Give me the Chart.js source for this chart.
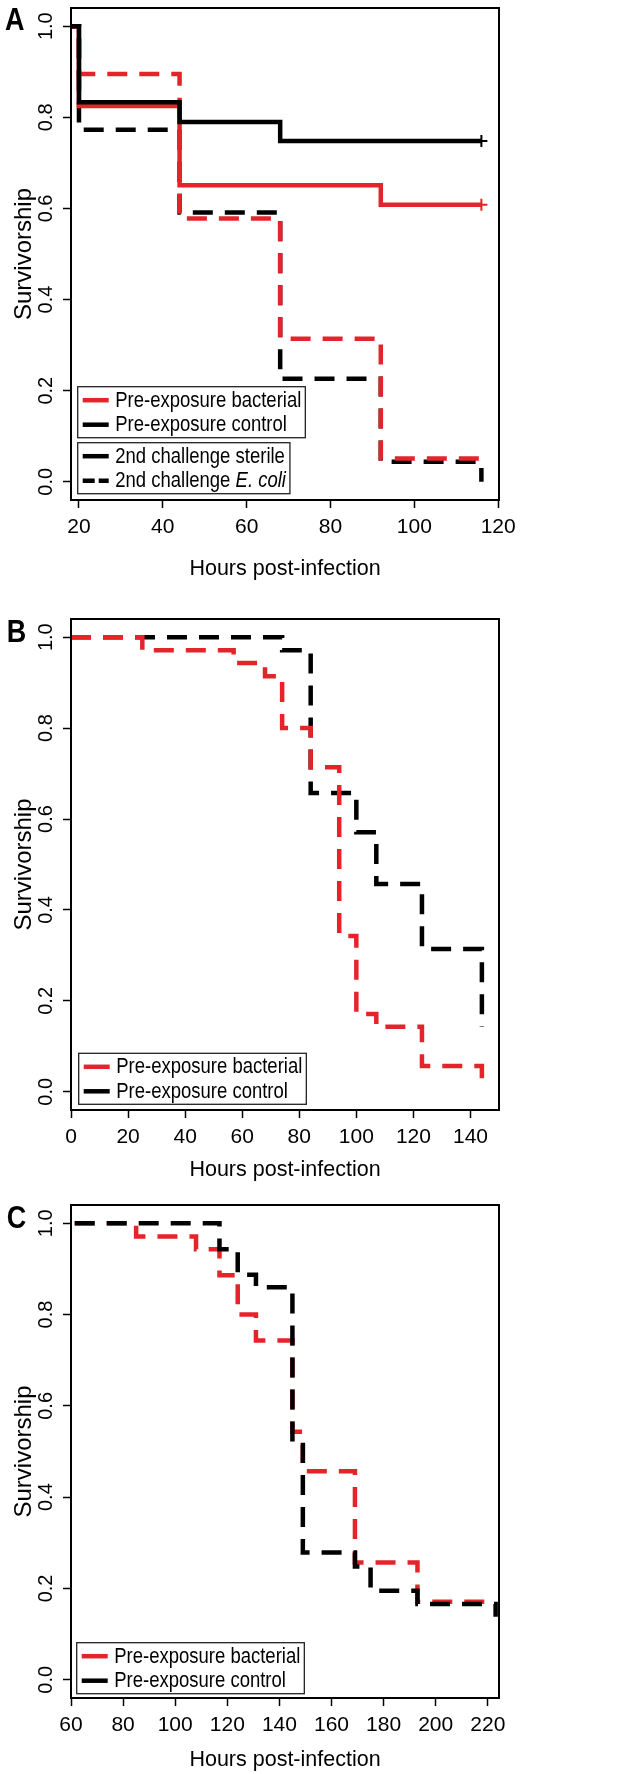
<!DOCTYPE html>
<html>
<head>
<meta charset="utf-8">
<script src="https://cdn.jsdelivr.net/npm/chart.js@4.4.1/dist/chart.umd.min.js"></script>
<style>
  html, body { margin: 0; padding: 0; background: #fff; }
  #page { position: relative; width: 626px; height: 1774px; }
  canvas { position: absolute; left: 0; }
</style>
</head>
<body>
<div id="page">
  <canvas id="panel-a" width="626" height="590" style="top:0"></canvas>
  <canvas id="panel-b" width="626" height="594" style="top:590px"></canvas>
  <canvas id="panel-c" width="626" height="594" style="top:1180px"></canvas>
</div>
<script>
const RED = '#e3252b';
const BLACK = '#000000';

// shared axis ticks
const yTickValues = [0, 0.2, 0.4, 0.6, 0.8, 1.0];
const aXTicks = [20, 40, 60, 80, 100, 120];
const bXTicks = [0, 20, 40, 60, 80, 100, 120, 140];
const cXTicks = [60, 80, 100, 120, 140, 160, 180, 200, 220];

// panel A - second challenge (hours, survivorship)
const aCtrlSterileTimes = [0, 20, 44, 68, 116];
const aCtrlSterileSurv = [1, 0.833, 0.79, 0.748, 0.748];
const aBactSterileTimes = [0, 20, 44, 92, 116];
const aBactSterileSurv = [1, 0.825, 0.651, 0.608, 0.608];
const aBactEcoliTimes = [0, 20, 44, 68, 92, 116];
const aBactEcoliSurv = [1, 0.895, 0.578, 0.314, 0.051, 0.051];
const aCtrlEcoliTimes = [0, 20, 44, 68, 92, 116];
const aCtrlEcoliSurv = [1, 0.773, 0.591, 0.226, 0.044, 0];
const aCensorTime = 116;

// panel B
const bBactTimes = [0, 25, 57, 68, 74, 84, 94, 100, 107, 123, 144];
const bBactSurv = [1, 0.971, 0.943, 0.914, 0.8, 0.714, 0.343, 0.171, 0.143, 0.057, 0.029];
const bCtrlTimes = [0, 74, 84, 100, 107, 123, 144];
const bCtrlSurv = [1, 0.971, 0.657, 0.571, 0.457, 0.314, 0.143];

// panel C
const cBactTimes = [0, 85, 108, 117, 124, 131, 145, 149, 169, 193, 223];
const cBactSurv = [1, 0.971, 0.943, 0.886, 0.8, 0.743, 0.543, 0.457, 0.257, 0.171, 0.171];
const cCtrlTimes = [0, 117, 124, 131, 145, 149, 169, 175, 193, 223];
const cCtrlSurv = [1, 0.943, 0.887, 0.86, 0.514, 0.279, 0.248, 0.195, 0.166, 0.138];

// legend text
const exposureLabels = ['Pre-exposure bacterial', 'Pre-exposure control'];
const challengeLabels = ['2nd challenge sterile', '2nd challenge '];
const challengeItalic = ['', 'E. coli'];

const FONT = '"Liberation Sans", Arial, Helvetica, sans-serif';
const DASH = [20, 12];
const TEXT_STRETCH = 1.17; // figure text is a bit taller than it is wide

Chart.defaults.font.family = FONT;
Chart.defaults.color = '#000';

function toPoints(times, surv) {
	return times.map((t, i) => ({ x: t, y: surv[i] }));
}

function curve(times, surv, color, dashed, censorAt) {
	return {
		data: toPoints(times, surv),
		borderColor: color,
		backgroundColor: color,
		borderWidth: 4.5,
		borderDash: dashed ? DASH : [],
		borderCapStyle: 'butt',
		borderJoinStyle: 'miter',
		stepped: 'before',
		fill: false,
		pointStyle: 'cross',
		pointBorderColor: color,
		pointBorderWidth: 2,
		pointRadius: ctx => (censorAt !== undefined && ctx.dataIndex === times.length - 1 && times[ctx.dataIndex] === censorAt) ? 6 : 0,
		pointHoverRadius: 0
	};
}

function stretchedText(ctx, text, x, y) {
	ctx.save();
	ctx.translate(x, y);
	ctx.scale(1, TEXT_STRETCH);
	ctx.fillText(text, 0, 0);
	ctx.restore();
}

const panelDecor = {
	id: 'panelDecor',
	afterDatasetsDraw(chart) {
		const { ctx, chartArea: a } = chart;
		ctx.save();
		ctx.strokeStyle = '#000';
		ctx.lineWidth = 2;
		ctx.strokeRect(a.left, a.top, a.right - a.left, a.bottom - a.top);
		ctx.restore();
	},
	afterDraw(chart, args, opts) {
		const ctx = chart.ctx;
		ctx.save();
		ctx.fillStyle = '#000';
		ctx.textBaseline = 'alphabetic';
		ctx.font = 'bold 27px ' + FONT;
		stretchedText(ctx, opts.letter, opts.letterX, opts.letterY);

		(opts.legends || []).forEach(box => {
			const normalFont = '18.5px ' + FONT;
			const italicFont = 'italic 18.5px ' + FONT;
			const textX = box.x + 37.5;
			let widest = 0;
			box.rows.forEach(r => {
				ctx.font = normalFont;
				let w = ctx.measureText(r.label).width;
				if (r.italic) {
					ctx.font = italicFont;
					w += ctx.measureText(r.italic).width;
				}
				widest = Math.max(widest, w);
			});
			const w = textX + widest + 4 - box.x;
			const h = box.rows.length * 24.5 + 2;
			ctx.fillStyle = '#fff';
			ctx.fillRect(box.x, box.y, w, h);
			ctx.strokeStyle = '#222';
			ctx.lineWidth = 1.3;
			ctx.strokeRect(box.x, box.y, w, h);

			box.rows.forEach((r, i) => {
				const base = box.y + 20 + i * 24.5;
				ctx.beginPath();
				ctx.strokeStyle = r.color;
				ctx.lineWidth = 4.5;
				ctx.setLineDash(r.dash ? [12, 4] : []);
				ctx.moveTo(box.x + 5, base - 6.5);
				ctx.lineTo(box.x + 31, base - 6.5);
				ctx.stroke();
				ctx.setLineDash([]);
				ctx.fillStyle = '#000';
				ctx.font = normalFont;
				stretchedText(ctx, r.label, textX, base);
				if (r.italic) {
					const lw = ctx.measureText(r.label).width;
					ctx.font = italicFont;
					stretchedText(ctx, r.italic, textX + lw, base);
				}
			});
		});
		ctx.restore();
	}
};

function buildPanel(canvasId, p) {
	const gridOpts = {
		drawOnChartArea: false,
		drawTicks: true,
		tickLength: 8,
		tickWidth: 1.5,
		tickColor: '#000'
	};

	new Chart(document.getElementById(canvasId), {
		type: 'line',
		data: { datasets: p.datasets },
		plugins: [panelDecor],
		options: {
			responsive: false,
			animation: false,
			devicePixelRatio: 1,
			layout: { padding: { top: p.top, right: 127, bottom: 0, left: 0 } },
			plugins: {
				legend: { display: false },
				tooltip: { enabled: false },
				panelDecor: { letter: p.letter, letterX: p.letterX, letterY: p.letterY, legends: p.legends }
			},
			scales: {
				x: {
					type: 'linear',
					min: p.xMin,
					max: p.xMax,
					afterBuildTicks: s => { s.ticks = p.xTicks.map(v => ({ value: v })); },
					afterFit: s => {
						s.height = p.axisHeight;
						s.paddingLeft = 0;
						s.paddingRight = 0;
					},
					ticks: {
						autoSkip: false,
						maxRotation: 0,
						padding: 7,
						font: { size: 21 },
						color: '#000',
						callback: v => String(v)
					},
					grid: gridOpts,
					border: { display: false },
					title: {
						display: true,
						text: 'Hours post-infection',
						font: { size: 21.5 },
						color: '#000',
						padding: { top: 0, bottom: p.titlePad }
					}
				},
				y: {
					type: 'linear',
					min: -0.04,
					max: 1.04,
					afterBuildTicks: s => { s.ticks = yTickValues.map(v => ({ value: v })); },
					afterFit: s => {
						s.width = 71;
						s.paddingTop = 0;
						s.paddingBottom = 0;
					},
					ticks: {
						minRotation: 90,
						maxRotation: 90,
						crossAlign: 'center',
						padding: 2.7,
						font: { size: 20 },
						color: '#000',
						callback: v => v.toFixed(1)
					},
					grid: gridOpts,
					border: { display: false },
					title: {
						display: true,
						text: 'Survivorship',
						font: { size: 24 },
						color: '#000',
						padding: { top: 9.6, bottom: 0 }
					}
				}
			}
		}
	});
}

buildPanel('panel-a', {
	top: 7, axisHeight: 90, titlePad: 8,
	xMin: 18.1, xMax: 120.2, xTicks: aXTicks,
	letter: 'A', letterX: 5, letterY: 30,
	datasets: [
		curve(aCtrlSterileTimes, aCtrlSterileSurv, BLACK, false, aCensorTime),
		curve(aBactSterileTimes, aBactSterileSurv, RED, false, aCensorTime),
		curve(aBactEcoliTimes, aBactEcoliSurv, RED, true),
		curve(aCtrlEcoliTimes, aCtrlEcoliSurv, BLACK, true)
	],
	legends: [
		{ x: 77.7, y: 386.7, rows: [
			{ label: exposureLabels[0], color: RED },
			{ label: exposureLabels[1], color: BLACK }
		] },
		{ x: 77.7, y: 442.7, rows: [
			{ label: challengeLabels[0], italic: challengeItalic[0], color: BLACK },
			{ label: challengeLabels[1], italic: challengeItalic[1], color: BLACK, dash: true }
		] }
	]
});

buildPanel('panel-b', {
	top: 29, axisHeight: 74, titlePad: 1.5,
	xMin: 0, xMax: 150, xTicks: bXTicks,
	letter: 'B', letterX: 6.7, letterY: 52,
	datasets: [
		curve(bBactTimes, bBactSurv, RED, true),
		curve(bCtrlTimes, bCtrlSurv, BLACK, true)
	],
	legends: [
		{ x: 78.7, y: 463.3, rows: [
			{ label: exposureLabels[0], color: RED },
			{ label: exposureLabels[1], color: BLACK }
		] }
	]
});

buildPanel('panel-c', {
	top: 25, axisHeight: 76, titlePad: 1,
	xMin: 60, xMax: 224.3, xTicks: cXTicks,
	letter: 'C', letterX: 6.7, letterY: 48,
	datasets: [
		curve(cCtrlTimes, cCtrlSurv, BLACK, true),
		curve(cBactTimes, cBactSurv, RED, true)
	],
	legends: [
		{ x: 76.7, y: 462.7, rows: [
			{ label: exposureLabels[0], color: RED },
			{ label: exposureLabels[1], color: BLACK }
		] }
	]
});
</script>
</body>
</html>
